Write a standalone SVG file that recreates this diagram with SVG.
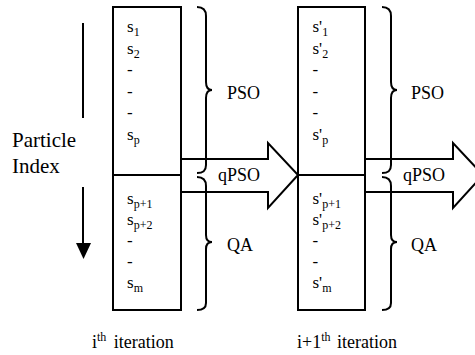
<svg xmlns="http://www.w3.org/2000/svg" width="475" height="355" viewBox="0 0 475 355" font-family="'Liberation Serif', 'Times New Roman', serif">
<style>
.box{fill:#fff;stroke:#000;stroke-width:2}
.arr{fill:#fff;stroke:#000;stroke-width:2;stroke-linejoin:miter}
.br{fill:none;stroke:#000;stroke-width:2}
text{font-family:'Liberation Serif','Times New Roman',serif;fill:#000}
.s{font-size:17px}
.sub{font-size:12px}
.lbl{font-size:18px}
.big{font-size:21px}
</style>
<rect width="475" height="355" fill="#fff"/>
<g id="index-arrow">
<line x1="83" y1="23" x2="83" y2="118" stroke="#000" stroke-width="2"/>
<line x1="83" y1="187" x2="83" y2="245" stroke="#000" stroke-width="2"/>
<polygon points="76,243 91,243 83.5,259" fill="#000"/>
<text class="big" x="12" y="147">Particle</text>
<text class="big" x="12" y="173">Index</text>
</g>
<g id="connectors">
<polygon class="arr" points="181,159 268,159 268,143 298,175 268,208 268,192 181,192"/>
<polygon class="arr" points="365,159 453,159 453,143 483,175 453,208 453,192 365,192"/>
</g>
<g id="box-i">
<rect class="box" x="113" y="7" width="68" height="303"/>
<line x1="113" y1="175" x2="181" y2="175" stroke="#000" stroke-width="2"/>
<g class="s">
<text x="127" y="32">s<tspan class="sub" dy="4">1</tspan></text>
<text x="127" y="53.5">s<tspan class="sub" dy="4">2</tspan></text>
<text x="127" y="75">-</text>
<text x="127" y="96.5">-</text>
<text x="127" y="118">-</text>
<text x="127" y="139.5">s<tspan class="sub" dy="4">p</tspan></text>
<text x="127" y="203.5">s<tspan class="sub" dy="4">p+1</tspan></text>
<text x="127" y="224.5">s<tspan class="sub" dy="4">p+2</tspan></text>
<text x="127" y="245.5">-</text>
<text x="127" y="266.5">-</text>
<text x="127" y="287.5">s<tspan class="sub" dy="4">m</tspan></text>
</g>
</g>
<g id="box-i1">
<rect class="box" x="298" y="7" width="67" height="303"/>
<line x1="298" y1="175" x2="365" y2="175" stroke="#000" stroke-width="2"/>
<g class="s">
<text x="312.5" y="32">s'<tspan class="sub" dy="4">1</tspan></text>
<text x="312.5" y="53.5">s'<tspan class="sub" dy="4">2</tspan></text>
<text x="312.5" y="75">-</text>
<text x="312.5" y="96.5">-</text>
<text x="312.5" y="118">-</text>
<text x="312.5" y="139.5">s'<tspan class="sub" dy="4">p</tspan></text>
<text x="312.5" y="203.5">s'<tspan class="sub" dy="4">p+1</tspan></text>
<text x="312.5" y="224.5">s'<tspan class="sub" dy="4">p+2</tspan></text>
<text x="312.5" y="245.5">-</text>
<text x="312.5" y="266.5">-</text>
<text x="312.5" y="287.5">s'<tspan class="sub" dy="4">m</tspan></text>
</g>
</g>
<g id="braces-i">
<path class="br" d="M197,7 C203,7 206,10 206,16 L206,82 C206,88 208,90 212,90 C208,90 206,92 206,98 L206,165 C206,171 203,173 197,173"/>
<path class="br" d="M197,177 C203,177 206,180 206,186 L206,235 C206,240 208,242 212,242 C208,242 206,244 206,249 L206,303 C206,308 203,310 197,310"/>
<text class="lbl" x="227" y="99">PSO</text>
<text class="lbl" x="218" y="181">qPSO</text>
<text class="lbl" x="227" y="251">QA</text>
</g>
<g id="braces-i1">
<path class="br" d="M382,7 C388,7 391,10 391,16 L391,82 C391,88 393,90 397,90 C393,90 391,92 391,98 L391,165 C391,171 388,173 382,173"/>
<path class="br" d="M382,177 C388,177 391,180 391,186 L391,235 C391,240 393,242 397,242 C393,242 391,244 391,249 L391,303 C391,308 388,310 382,310"/>
<text class="lbl" x="411" y="99">PSO</text>
<text class="lbl" x="403" y="181">qPSO</text>
<text class="lbl" x="411" y="251">QA</text>
</g>
<g id="labels">
<text class="lbl" x="92" y="348">i<tspan font-size="12" dy="-7">th</tspan><tspan dy="7" dx="3"> iteration</tspan></text>
<text class="lbl" x="297" y="348">i+1<tspan font-size="12" dy="-7">th</tspan><tspan dy="7" dx="2"> iteration</tspan></text>
</g>
</svg>
